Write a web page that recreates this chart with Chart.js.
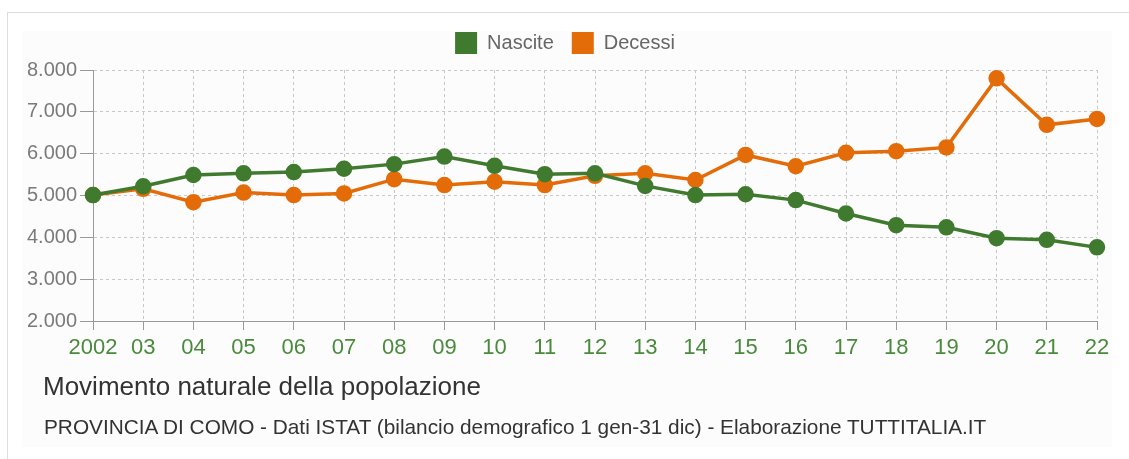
<!DOCTYPE html>
<html>
<head>
<meta charset="utf-8">
<script src="https://cdn.jsdelivr.net/npm/chart.js@4/dist/chart.umd.min.js"></script>
<style>
  html, body { margin: 0; padding: 0; background: #fff; }
  body { width: 1129px; height: 459px; position: relative; overflow: hidden; font-family: "Liberation Sans", Arial, sans-serif; }
  .frame { position: absolute; left: 7px; top: 12px; width: 1130px; height: 460px; border-left: 1px solid #dcdcdc; border-top: 1px solid #dcdcdc; }
  .panel { position: absolute; left: 22px; top: 31px; width: 1090px; height: 416px; background: #fcfcfc; }
  .wrap { position: absolute; left: 0; top: 0; width: 1129px; height: 459px; }
  .title { position: absolute; left: 43px; top: 371px; font-size: 26px; line-height: 30px; color: #333; white-space: nowrap; }
  .sub { position: absolute; left: 44px; top: 415px; font-size: 20.8px; line-height: 24px; color: #333; white-space: nowrap; }
</style>
</head>
<body>
<div class="frame"></div>
<div class="panel"></div>
<div class="wrap"><canvas id="natChart"></canvas></div>
<div class="title">Movimento naturale della popolazione</div>
<div class="sub">PROVINCIA DI COMO - Dati ISTAT (bilancio demografico 1 gen-31 dic) - Elaborazione TUTTITALIA.IT</div>
<script>
const years = ['2002', '03', '04', '05', '06', '07', '08', '09', '10', '11', '12',
    '13', '14', '15', '16', '17', '18', '19', '20', '21', '22'];
const nascite = [5010, 5220, 5490, 5530, 5560, 5640, 5750, 5930, 5710, 5510, 5530,
    5230, 5010, 5030, 4890, 4570, 4290, 4240, 3980, 3940, 3760];
const decessi = [5010, 5160, 4840, 5070, 5010, 5050, 5390, 5250, 5330, 5250, 5470,
    5530, 5370, 5970, 5700, 6020, 6060, 6150, 7800, 6690, 6830];
const yTicks = [2000, 3000, 4000, 5000, 6000, 7000, 8000];

const green = '#3f7a2f';
const orange = '#e36c09';
const font = '"Liberation Sans", Arial, sans-serif';

const fmt = (v) => v.toLocaleString('it-IT');

// legend sits a bit right of centre and a bit further from the plot
const legendTweak = {
    id: 'legendTweak',
    beforeUpdate(chart) {
        const lg = chart.legend;
        if (lg && !lg._tweaked) {
            const fit = lg.fit.bind(lg);
            const draw = lg.draw.bind(lg);
            lg.fit = function () { fit(); this.height += 6; };
            lg.draw = function (area) {
                const ctx = this.ctx;
                ctx.save();
                ctx.translate(5, 0);
                draw(area);
                ctx.restore();
            };
            lg._tweaked = true;
        }
    }
};

new Chart(document.getElementById('natChart'), {
    type: 'line',
    data: {
        labels: years,
        datasets: [{
            label: 'Nascite',
            data: nascite,
            borderColor: green,
            backgroundColor: green,
            borderWidth: 3.5,
            pointRadius: 6.5,
            pointHoverRadius: 6.5,
            tension: 0
        }, {
            label: 'Decessi',
            data: decessi,
            borderColor: orange,
            backgroundColor: orange,
            borderWidth: 3.5,
            pointRadius: 6.5,
            pointHoverRadius: 6.5,
            tension: 0
        }]
    },
    options: {
        responsive: true,
        maintainAspectRatio: false,
        animation: false,
        layout: { padding: { left: 23, right: 32, top: 14, bottom: 0 } },
        plugins: {
            legend: {
                position: 'top',
                labels: {
                    boxWidth: 22,
                    boxHeight: 22,
                    padding: 18,
                    color: '#666',
                    font: { size: 20, family: font },
                    generateLabels: (chart) => Chart.defaults.plugins.legend.labels.generateLabels(chart)
                        .map(l => Object.assign(l, { lineWidth: 0 }))
                }
            },
            tooltip: { enabled: false }
        },
        scales: {
            x: {
                afterFit: (s) => { s.height = 138; },
                grid: {
                    color: '#c8c8c8',
                    tickColor: '#999',
                    tickLength: 9,
                    tickBorderDash: []
                },
                border: { color: '#999', width: 1, dash: [3, 3] },
                ticks: {
                    color: '#4a8a3c',
                    padding: 5,
                    maxRotation: 0,
                    autoSkip: false,
                    font: { size: 22, family: font }
                }
            },
            y: {
                min: 2000,
                max: 8000,
                afterFit: (s) => { s.width = 70; },
                afterBuildTicks: (s) => { s.ticks = yTicks.map(v => ({ value: v })); },
                grid: {
                    color: '#c8c8c8',
                    tickColor: '#999',
                    tickLength: 13,
                    tickBorderDash: []
                },
                border: { color: '#999', width: 1, dash: [3, 3] },
                ticks: {
                    color: '#7a7a7a',
                    padding: 3,
                    callback: (v) => fmt(v),
                    font: { size: 20, family: font }
                }
            }
        }
    },
    plugins: [legendTweak]
});
</script>
</body>
</html>
